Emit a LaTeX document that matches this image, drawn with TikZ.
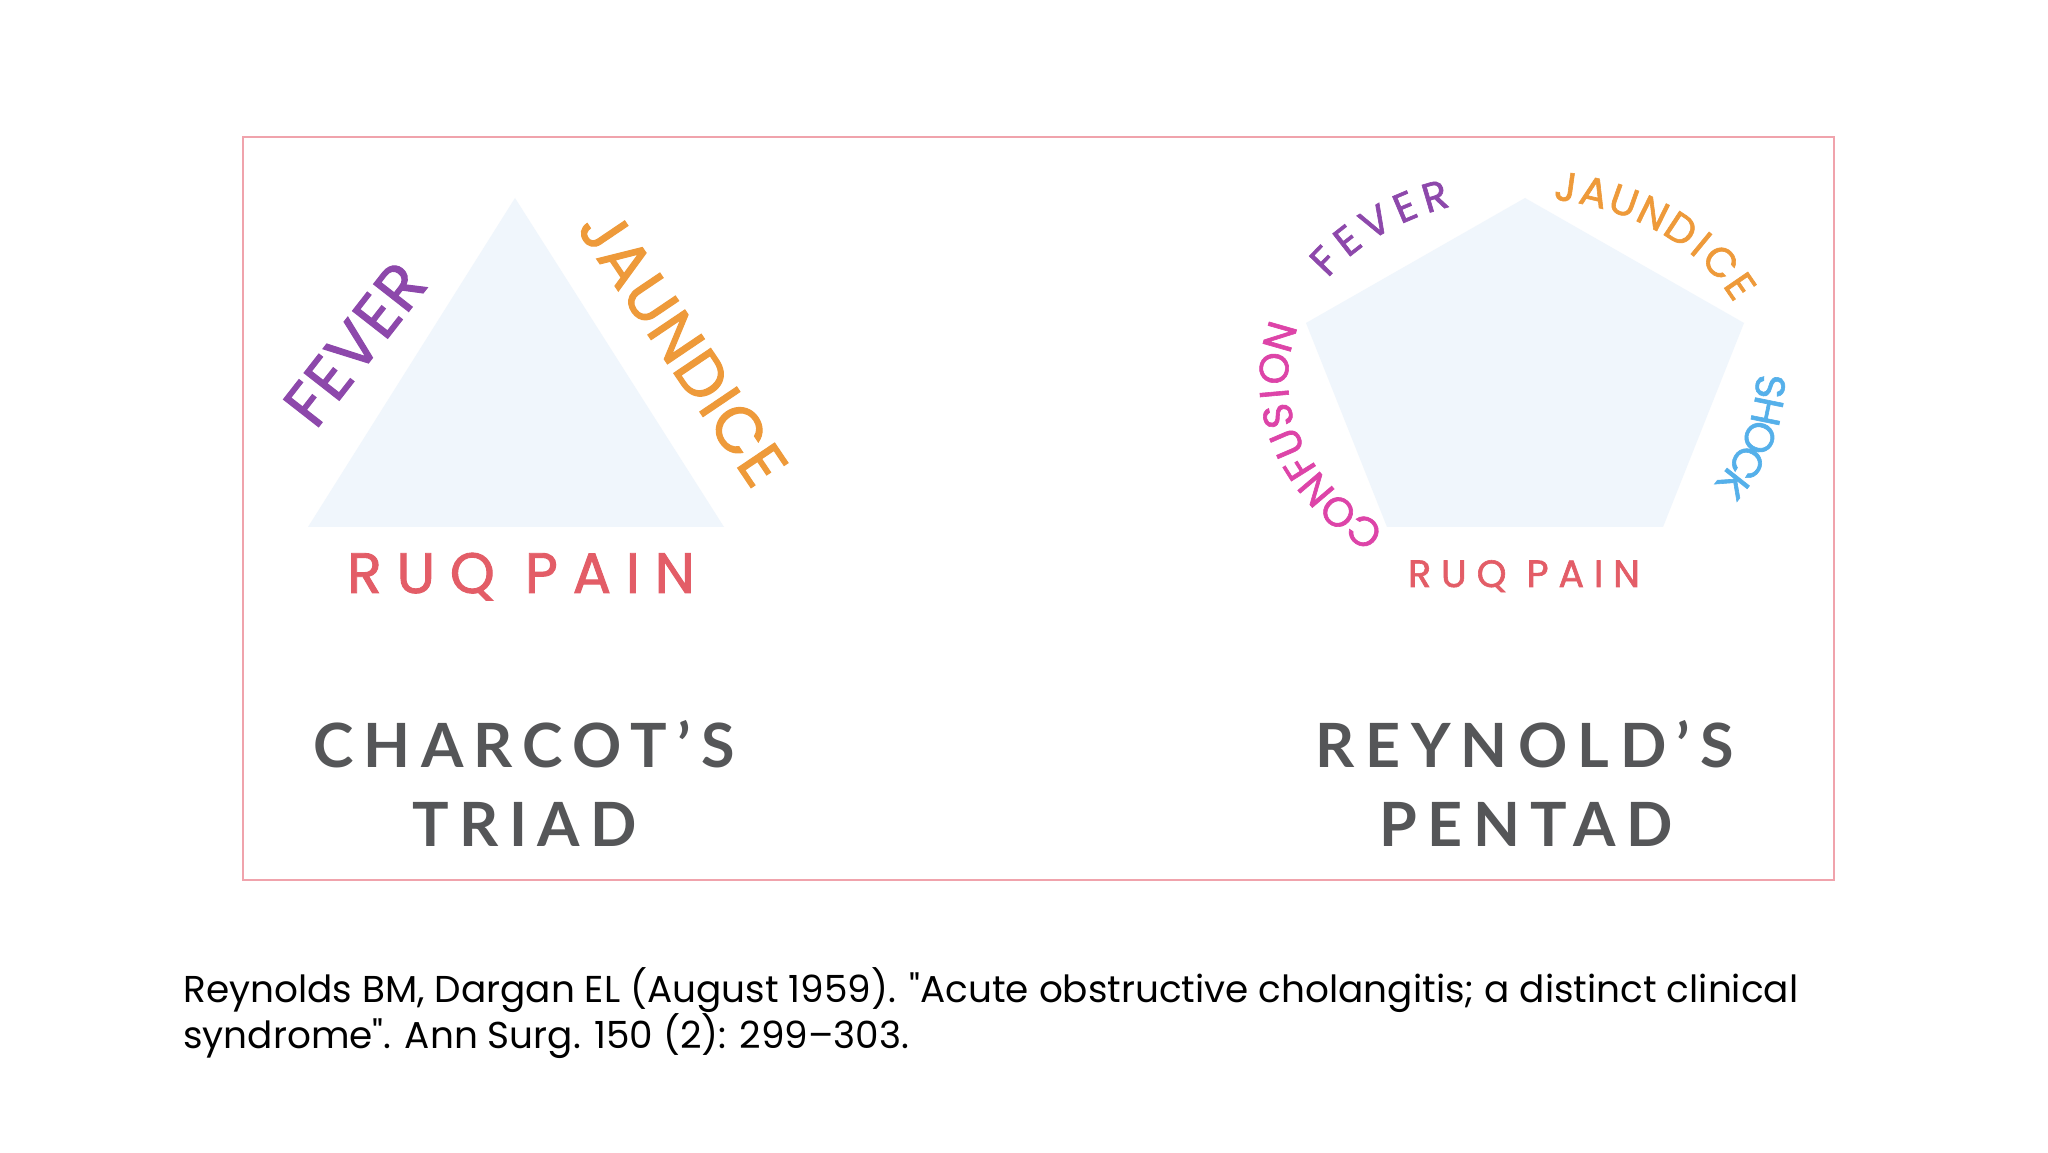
\documentclass[tikz,border=0pt]{standalone}
\usepackage{fontspec}
\usetikzlibrary{decorations.text}
\newfontfamily\lblfont{Poppins}[LetterSpace=26, FakeBold=1.6]
\newfontfamily\sidefont{Poppins}[LetterSpace=2, FakeBold=1.6]
\newfontfamily\arcfont{Poppins}[FakeBold=1.5]
\newfontfamily\headfont{Lato}[LetterSpace=17]
\newfontfamily\citefont{Poppins}
\newcommand{\trilbl}{\lblfont\fontsize{28.5}{30}\selectfont}
\newcommand{\sidelbl}{\sidefont\fontsize{32}{34}\selectfont}
\newcommand{\pentlbl}{\arcfont\fontsize{20.5}{22}\selectfont}
\newcommand{\pentpain}{\lblfont\fontsize{19}{20}\selectfont}
\newcommand{\headlbl}{\headfont\bfseries\fontsize{30.5}{34}\selectfont}
\newcommand{\citelbl}{\citefont\fontsize{18.7}{22}\selectfont}
\definecolor{framecol}{HTML}{F0A3AC}
\definecolor{shapefill}{HTML}{F0F6FC}
\definecolor{fevercol}{HTML}{8D48AB}
\definecolor{jauncol}{HTML}{EE9A3A}
\definecolor{paincol}{HTML}{E35D67}
\definecolor{confcol}{HTML}{DD44A8}
\definecolor{shockcol}{HTML}{55B0EA}
\definecolor{headcol}{HTML}{555658}
\begin{document}
\begin{tikzpicture}[x=0.5pt,y=0.5pt,
  lbl/.style={inner sep=0pt},
  curved/.style 2 args={decorate, decoration={text effects along path, text={#1},
    text effects/.cd, characters={text=#2, font=\pentlbl, anchor=base, transform shape}, fit text to path}}]
\fill[white] (0,0) rectangle (2048,1152);
\useasboundingbox (0,0) rectangle (2048,1152);
\draw[framecol, line width=0.75pt] (243,272) rectangle (1834,1015);
% triad
\fill[shapefill] (515,954) coordinate (t1) -- (308,625) coordinate (t2) -- (724,625) coordinate (t3) -- cycle;
\node[lbl, text=fevercol, font=\sidelbl, rotate=52] (tfever) at (355,808) {FEVER};
\node[lbl, text=jauncol, font=\sidelbl, rotate=-56] (tjaun) at (683,805) {JAUNDICE};
\node[lbl, text=paincol, font=\trilbl, anchor=base] (tpain) at (521,559) {RUQ PAIN};
\node[lbl, text=headcol, font=\headlbl, anchor=base] (thead) at (524,385) {CHARCOT’S};
\node[lbl, text=headcol, font=\headlbl, anchor=base] (thead2) at (525,306) {TRIAD};
% pentad
\coordinate (pc) at (1522,772);
\fill[shapefill] (1525,954) coordinate (p1) -- (1744,829) coordinate (p2) -- (1663,625) coordinate (p3)
  -- (1387,625) coordinate (p4) -- (1306,829) coordinate (p5) -- cycle;
\path[curved={FEVER}{fevercol}] ([shift={(148:234 and 182)}]pc) arc[start angle=148, end angle=106, x radius=234, y radius=182];
\path[curved={JAUNDICE}{jauncol}] ([shift={(84:234 and 182)}]pc) arc[start angle=84, end angle=23, x radius=234, y radius=182];
\path[curved={SHOCK}{shockcol}] ([shift={(4:234 and 182)}]pc) arc[start angle=4, end angle=-37, x radius=234, y radius=182];
\path[curved={CONFUSION}{confcol}] ([shift={(236:234 and 182)}]pc) arc[start angle=236, end angle=161, x radius=234, y radius=182];
\node[lbl, text=paincol, font=\pentpain, anchor=base] (ppain) at (1524,565) {RUQ PAIN};
\node[lbl, text=headcol, font=\headlbl, anchor=base] (phead) at (1525,385) {REYNOLD’S};
\node[lbl, text=headcol, font=\headlbl, anchor=base] (phead2) at (1526,306) {PENTAD};
% reference
\node[lbl, font=\citelbl, anchor=base west] (cite1) at (183,150) {Reynolds BM, Dargan EL (August 1959). "Acute obstructive cholangitis; a distinct clinical};
\node[lbl, font=\citelbl, anchor=base west] (cite2) at ([yshift=-23pt]cite1.base west) {syndrome". Ann Surg. 150 (2): 299–303.};
\end{tikzpicture}
\end{document}
